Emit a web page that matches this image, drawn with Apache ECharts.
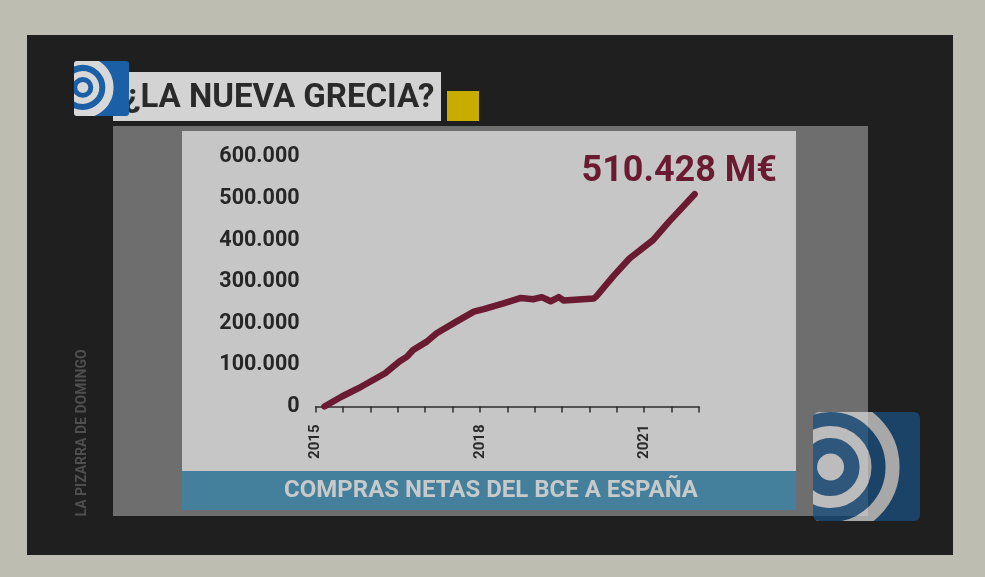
<!DOCTYPE html>
<html>
<head>
<meta charset="utf-8">
<script src="https://cdn.jsdelivr.net/npm/echarts@6/dist/echarts.min.js"></script>
<style>html,body{margin:0;padding:0;background:#bebdb1;}#chart{width:985px;height:577px;}</style>
</head>
<body>
<div id="chart"></div>
<script>
// ---- data ----
const years = [2015.16, 2015.48, 2015.84, 2016.27, 2016.53, 2016.67, 2016.78, 2017.03, 2017.21, 2017.57, 2017.89, 2018.07, 2018.43, 2018.75, 2018.97, 2019.13, 2019.29, 2019.44, 2019.53, 2020.08, 2020.12, 2020.44, 2020.73, 2021.16, 2021.45, 2021.92];
const values = [0, 24000, 48000, 80000, 108000, 120000, 136000, 156000, 176000, 204000, 228000, 234000, 248000, 261000, 258000, 263000, 253000, 263000, 255000, 260000, 264000, 314000, 356000, 400000, 444000, 510428];
const yTicks = [0, 100000, 200000, 300000, 400000, 500000, 600000];
const xLabelYears = [2015, 2018, 2021];
const titleText = '¿LA NUEVA GRECIA?';
const bannerText = 'COMPRAS NETAS DEL BCE A ESPAÑA';
const sideText = 'LA PIZARRA DE DOMINGO';
const unitText = 'M€';

function fmt(v) { return String(Math.round(v)).replace(/\B(?=(\d{3})+(?!\d))/g, '.'); }

function logo(w, h, blue, light, p) {
  const cx = p.cx * w, cy = p.cy * h;
  const ring = (a, b) => `<circle cx="${cx}" cy="${cy}" r="${(a + b) / 2 * w}" fill="none" stroke="${light}" stroke-width="${(b - a) * w}"/>`;
  const svg = `<svg xmlns="http://www.w3.org/2000/svg" width="${w}" height="${h}" viewBox="0 0 ${w} ${h}"><defs><clipPath id="c"><rect width="${w}" height="${h}" rx="${p.rx}" ry="${p.rx}"/></clipPath></defs><g clip-path="url(#c)"><rect width="${w}" height="${h}" fill="${blue}"/><circle cx="${cx}" cy="${cy}" r="${p.dot * w}" fill="${light}"/>${ring(p.r1[0], p.r1[1])}${ring(p.r2[0], p.r2[1])}</g></svg>`;
  return 'data:image/svg+xml;charset=utf-8,' + encodeURIComponent(svg);
}

const chart = echarts.init(document.getElementById('chart'), null, { renderer: 'canvas' });
const FONT = 'Roboto';

chart.setOption({
  backgroundColor: '#bebdb1',
  animation: false,
  grid: { left: 315.6, right: 286, top: 157, bottom: 170.5, containLabel: false },
  xAxis: {
    type: 'value', min: 2015, max: 2022, interval: 0.5,
    axisLine: { show: true, lineStyle: { color: '#2e2e2e', width: 1.5 } },
    axisTick: { show: true, length: 6, lineStyle: { color: '#2e2e2e', width: 1.5 } },
    splitLine: { show: false },
    axisLabel: {
      rotate: 90, margin: 18, color: '#2a2a2a', fontFamily: FONT, fontWeight: 'bold', fontSize: 15,
      formatter: v => xLabelYears.includes(v) ? String(v) : ''
    }
  },
  yAxis: {
    type: 'value', min: yTicks[0], max: yTicks[yTicks.length - 1], interval: yTicks[1] - yTicks[0],
    axisLine: { show: false }, axisTick: { show: false }, splitLine: { show: false },
    axisLabel: { margin: 16, color: '#262626', fontFamily: FONT, fontWeight: 'bold', fontSize: 21.5, formatter: v => fmt(v) }
  },
  series: [{
    type: 'line', showSymbol: false, smooth: false, z: 5,
    data: years.map((y, i) => [y, values[i]]),
    lineStyle: { color: '#6a1a31', width: 6.5, join: 'round', cap: 'round' }
  }],
  graphic: [
    { type: 'rect', z: -20, shape: { x: 27, y: 35, width: 926, height: 520 }, style: { fill: '#1f1f1f' } },
    { type: 'rect', z: -19, shape: { x: 113, y: 126, width: 755, height: 390 }, style: { fill: '#6e6e6e' } },
    { type: 'rect', z: -18, shape: { x: 182, y: 131, width: 614, height: 340 }, style: { fill: '#c6c6c6' } },
    { type: 'rect', z: -18, shape: { x: 182, y: 471, width: 614, height: 39 }, style: { fill: '#44809c' } },
    { type: 'text', z: -17, x: 491, y: 491, style: { text: bannerText, fill: '#c7c9cb', font: 'bold 24px Roboto', textAlign: 'center', textVerticalAlign: 'middle' } },
    { type: 'rect', z: -18, shape: { x: 113, y: 72, width: 328, height: 49 }, style: { fill: '#d3d3d3' } },
    { type: 'rect', z: -18, shape: { x: 447, y: 91, width: 32, height: 30 }, style: { fill: '#c8ad00' } },
    { type: 'text', z: -17, x: 124, y: 99, style: { text: titleText, fill: '#2a2a2a', font: 'bold 33px Roboto', textAlign: 'left', textVerticalAlign: 'middle' } },
    { type: 'text', z: -17, x: 82, y: 433, rotation: Math.PI / 2, style: { text: sideText, fill: '#4f4f4f', font: 'bold 14px Roboto', textAlign: 'center', textVerticalAlign: 'middle' } },
    { type: 'text', z: 6, x: 777, y: 172, style: { text: fmt(values[values.length - 1]) + ' ' + unitText, fill: '#6a1a31', font: 'bold 36px Roboto', textAlign: 'right', textVerticalAlign: 'middle' } },
    { type: 'image', z: 20, style: { image: logo(55, 55, '#1b5fa6', '#d8d8d8', { cx: 0.16, cy: 0.48, rx: 3, dot: 0.1, r1: [0.19, 0.3], r2: [0.41, 0.56] }), x: 74, y: 61, width: 55, height: 55 } },
    { type: 'image', z: 20, style: { image: logo(107, 109, '#1a4e80', '#d6d6d6', { cx: 0.164, cy: 0.505, rx: 6, dot: 0.126, r1: [0.271, 0.383], r2: [0.514, 0.645] }), x: 813, y: 412, width: 107, height: 109, opacity: 0.75 } }
  ]
});
</script>
</body>
</html>
